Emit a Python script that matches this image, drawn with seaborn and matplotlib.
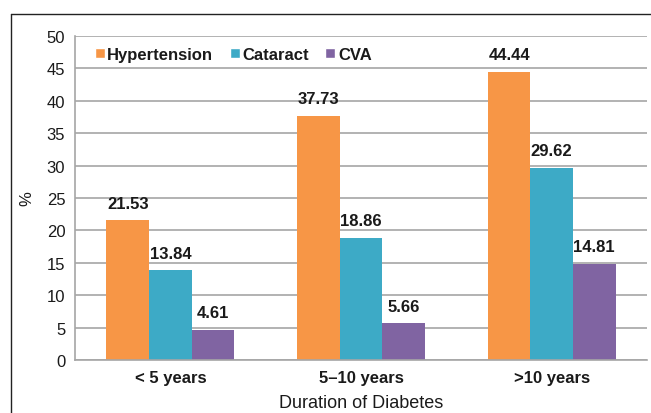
import numpy as np
import pandas as pd
import matplotlib
matplotlib.use("Agg")
import matplotlib.pyplot as plt
import seaborn as sns
from matplotlib.lines import Line2D

# data
durations = ["< 5 years", "5\u201310 years", ">10 years"]
conditions = ["Hypertension", "Cataract", "CVA"]
hypertension = [21.53, 37.73, 44.44]
cataract = [13.84, 18.86, 29.62]
cva = [4.61, 5.66, 14.81]
colors = ["#F79646", "#3DAAC6", "#8064A2"]

df = pd.DataFrame({
    "duration": durations * 3,
    "condition": [c for c in conditions for _ in durations],
    "value": hypertension + cataract + cva,
})

sns.set_style("white")
plt.rcParams["font.family"] = ["Liberation Sans", "DejaVu Sans"]

fig = plt.figure(figsize=(6.51, 4.14), dpi=100)
ax = fig.add_axes([75 / 651, 1 - 361 / 414, (647 - 75) / 651, (361 - 37) / 414])

sns.barplot(data=df, x="duration", y="value", hue="condition",
            palette=colors, width=0.67, ax=ax, saturation=1, legend=False,
            linewidth=0)

ax.set_ylim(0, 50)
ax.set_yticks(range(0, 51, 5))
ax.yaxis.grid(True, color="#A6A6A6", linewidth=1.2)
ax.set_axisbelow(True)
for s in ["top", "right"]:
    ax.spines[s].set_visible(False)
ax.spines["left"].set_color("#A6A6A6")
ax.spines["bottom"].set_color("#A6A6A6")
ax.spines["left"].set_linewidth(1.2)
ax.spines["bottom"].set_linewidth(1.2)
ax.tick_params(axis="y", labelsize=12, length=0, pad=7, labelcolor="#1a1a1a")
ax.tick_params(axis="x", labelsize=12, length=0, pad=7, labelcolor="#1a1a1a")
for lbl in ax.get_xticklabels():
    lbl.set_fontweight("bold")
ax.set_xlabel("Duration of Diabetes", fontsize=13, labelpad=7, color="#1a1a1a")
ax.set_ylabel("%", fontsize=12, labelpad=9, color="#1a1a1a")

for cont in ax.containers:
    ax.bar_label(cont, fmt="%.2f", fontsize=12, fontweight="bold", padding=7,
                 color="#1a1a1a")

handles = [Line2D([0], [0], marker="s", color="w", markerfacecolor=c,
                  markersize=7, linestyle="") for c in colors]
leg = ax.legend(handles, conditions, loc="upper left", bbox_to_anchor=(0.005, 1.012),
                ncol=3, frameon=False, prop={"weight": "bold", "size": 12},
                handletextpad=0.05, columnspacing=0.9, handlelength=0.8,
                labelcolor="#1a1a1a")

# outer frame lines (top and left)
fig.add_artist(Line2D([11 / 651, 1.0], [1 - 15 / 414, 1 - 15 / 414],
                      color="#222222", linewidth=1))
fig.add_artist(Line2D([11 / 651, 11 / 651], [0, 1 - 15 / 414],
                      color="#222222", linewidth=1))

fig.savefig("out.png", dpi=100)
